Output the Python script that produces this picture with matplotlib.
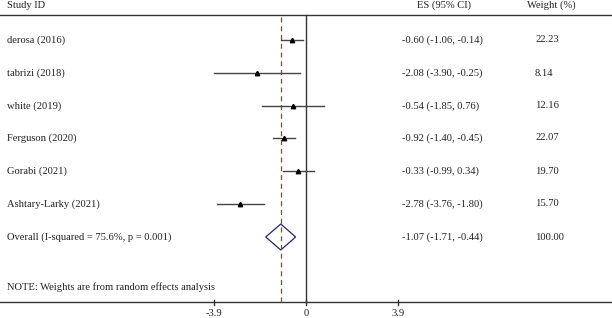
import matplotlib
matplotlib.use("Agg")
import matplotlib.pyplot as plt
from matplotlib import transforms

studies = ["derosa (2016)", "tabrizi (2018)", "white (2019)", "Ferguson (2020)",
           "Gorabi (2021)", "Ashtary-Larky (2021)"]
es = [-0.60, -2.08, -0.54, -0.92, -0.33, -2.78]
lo = [-1.06, -3.90, -1.85, -1.40, -0.99, -3.76]
hi = [-0.14, -0.25, 0.76, -0.45, 0.34, -1.80]
weights = ["22.23", "8.14", "12.16", "22.07", "19.70", "15.70"]
overall_label = "Overall (I-squared = 75.6%, p = 0.001)"
overall = (-1.07, -1.71, -0.44)
overall_weight = "100.00"
note = "NOTE: Weights are from random effects analysis"
xticks = [-3.9, 0, 3.9]
xticklabels = ["-3.9", "0", "3.9"]

W, H = 612, 318
fig = plt.figure(figsize=(W / 100, H / 100), dpi=100)
ax = fig.add_axes([0, 0, 1, 1])
ppu = 92 / 3.9
half = (W / 2) / ppu
ax.set_xlim(-half, half)
ax.set_ylim(H, 0)
ax.axis("off")

font = dict(family="Liberation Serif", fontsize=7.6, color="#222222")
tr = transforms.blended_transform_factory(ax.transAxes, ax.transData)

row_y = [40, 73, 106, 138, 171, 204]
y_over = 237
y_note = 287
y_top = 15
y_bot = 302

# headers
ax.text(7 / W, 5, "Study ID", transform=tr, va="center", ha="left", **font)
ax.text(444 / W, 5, "ES (95% CI)", transform=tr, va="center", ha="center", **font)
ax.text(551 / W, 5, "Weight (%)", transform=tr, va="center", ha="center", **font)

# frame lines
ax.plot([-half, half], [y_top, y_top], color="#333333", lw=1.0)
ax.plot([-half, half], [y_bot, y_bot], color="#333333", lw=1.0)
ax.plot([0, 0], [y_top, y_bot], color="#333333", lw=1.0)
ax.plot([overall[0], overall[0]], [y_top + 2, y_bot], color="#a03a3a",
        lw=0.9, ls=(0, (4, 3)))

for s, e, l, h, w, y in zip(studies, es, lo, hi, weights, row_y):
    ax.plot([l, h], [y, y], color="#444444", lw=1.0)
    ax.plot([e], [y], marker="^", color="black", ms=3.2)
    ax.text(7 / W, y, s, transform=tr, va="center", ha="left", **font)
    ax.text(402 / W, y, f"{e:.2f} ({l:.2f}, {h:.2f})", transform=tr,
            va="center", ha="left", **font)
    ax.text(535 / W, y, w, transform=tr, va="center", ha="left", **font)

# overall diamond
e, l, h = overall
ax.fill([l, e, h, e, l], [y_over, y_over - 13, y_over, y_over + 13, y_over],
        facecolor="none", edgecolor="#1f2a66", lw=0.9)
ax.text(7 / W, y_over, overall_label, transform=tr, va="center", ha="left", **font)
ax.text(402 / W, y_over, f"{e:.2f} ({l:.2f}, {h:.2f})", transform=tr,
        va="center", ha="left", **font)
ax.text(535 / W, y_over, overall_weight, transform=tr, va="center", ha="left", **font)

ax.text(7 / W, y_note, note, transform=tr, va="center", ha="left", **font)

for t, lab in zip(xticks, xticklabels):
    ax.plot([t, t], [y_bot - 2, y_bot + 3], color="#333333", lw=1.0)
    ax.text(t, 313, lab, va="center", ha="center", **font)

fig.savefig("out.png", dpi=100)
